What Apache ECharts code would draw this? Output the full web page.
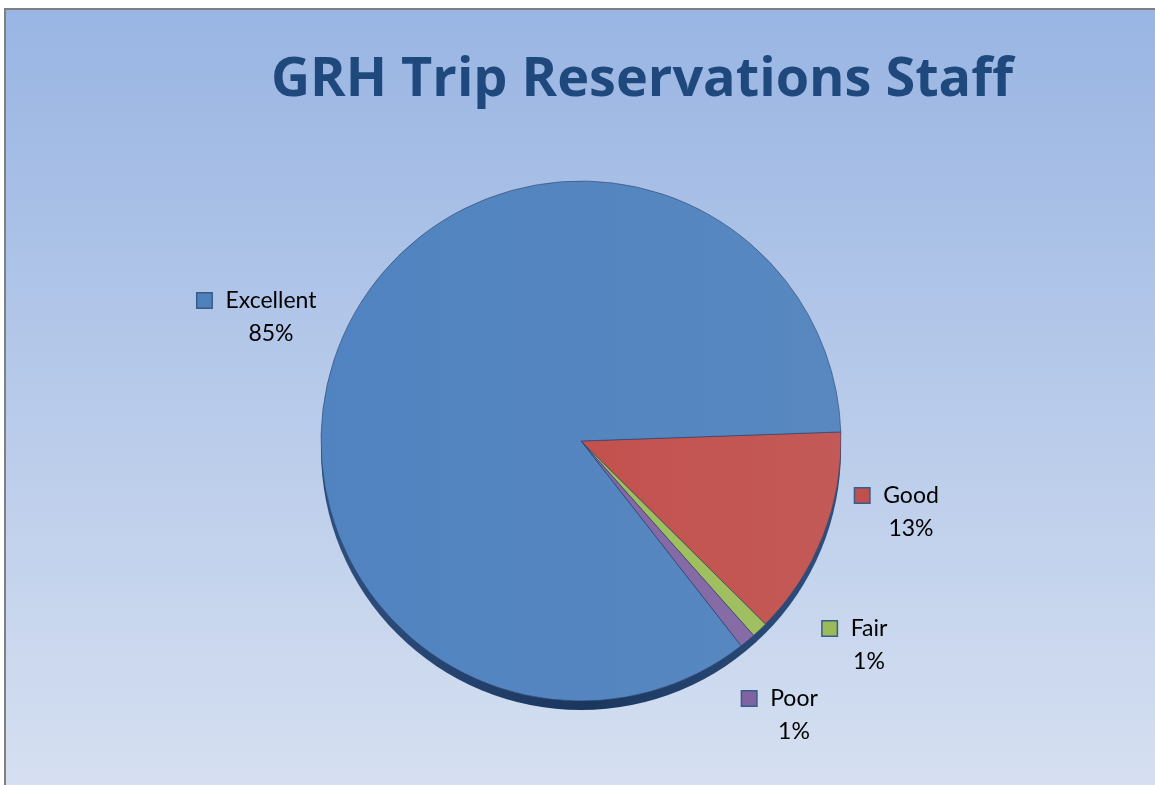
<!DOCTYPE html>
<html>
<head>
<meta charset="utf-8">
<script src="https://cdn.jsdelivr.net/npm/echarts@6/dist/echarts.min.js"></script>
<style>
  html, body { margin: 0; padding: 0; background: #fff; }
  #chart { width: 1155px; height: 785px; }
</style>
</head>
<body>
<div id="chart"></div>
<script>
// --- données ---
const categories = ['Good', 'Fair', 'Poor', 'Excellent'];
const values = [13, 1, 1, 85];
const colors = ['#c0504d', '#9bbb59', '#8064a2', '#4f81bd'];

const chart = echarts.init(document.getElementById('chart'));

// position des étiquettes (comme Excel "best fit")
const labelPos = [[897, 512], [855, 645], [780, 715], [257, 317]];

const rich = {};
categories.forEach((c, i) => {
    rich['box' + i] = {
        width: 14, height: 14,
        backgroundColor: colors[i],
        borderColor: '#385d8a', borderWidth: 1.5
    };
});
rich.name = { fontFamily: 'Lato', fontSize: 23, color: '#000', lineHeight: 33, padding: [0, 0, 0, 14] };
rich.pct = { fontFamily: 'Lato', fontSize: 23, color: '#000', lineHeight: 33, padding: [0, 0, 0, 28] };

const option = {
    backgroundColor: '#fff',
    animation: false,
    graphic: [{
        type: 'rect',
        z: -10,
        shape: { x: 5, y: 9, width: 1200, height: 900 },
        style: {
            fill: new echarts.graphic.LinearGradient(0, 0, 0, 1, [
                { offset: 0, color: '#99b5e3' },
                { offset: 1, color: '#dfe6f3' }
            ]),
            stroke: '#808080',
            lineWidth: 2
        }
    }],
    title: {
        text: 'GRH Trip Reservations Staff',
        left: 637,
        top: 49,
        textAlign: 'center',
        textStyle: {
            fontFamily: 'Open Sans',
            fontWeight: 'bold',
            fontSize: 54,
            color: '#1f497d'
        }
    },
    series: [
        {
            // épaisseur 3D sous le camembert
            type: 'pie',
            silent: true,
            center: [581, 450],
            radius: 260,
            z: 1,
            label: { show: false },
            labelLine: { show: false },
            itemStyle: {
                color: new echarts.graphic.LinearGradient(0, 0, 1, 0, [
                    { offset: 0, color: '#2e5080' },
                    { offset: 0.5, color: '#1b365d' },
                    { offset: 1, color: '#2e5080' }
                ])
            },
            data: [{ name: 'side', value: values.reduce((a, b) => a + b, 0) }]
        },
        {
            type: 'pie',
            center: [581, 441],
            radius: 260,
            startAngle: 2,
            clockwise: true,
            z: 2,
            itemStyle: {
                borderColor: 'rgba(40,60,100,0.55)',
                borderWidth: 1
            },
            label: {
                show: true,
                formatter: p => '{box' + p.dataIndex + '|}{name|' + p.name + '}\n{pct|' + Math.round(p.percent) + '%}',
                rich: rich,
                align: 'left'
            },
            labelLine: { show: false },
            labelLayout: p => ({
                x: labelPos[p.dataIndex][0],
                y: labelPos[p.dataIndex][1],
                align: 'center',
                verticalAlign: 'middle'
            }),
            data: categories.map((c, i) => ({
                name: c,
                value: values[i],
                itemStyle: {
                    color: new echarts.graphic.LinearGradient(0, 0, 1, 0, [
                        { offset: 0, color: echarts.color.lift(colors[i], -0.02) },
                        { offset: 1, color: echarts.color.lift(colors[i], 0.06) }
                    ])
                }
            }))
        }
    ]
};

chart.setOption(option);
</script>
</body>
</html>
